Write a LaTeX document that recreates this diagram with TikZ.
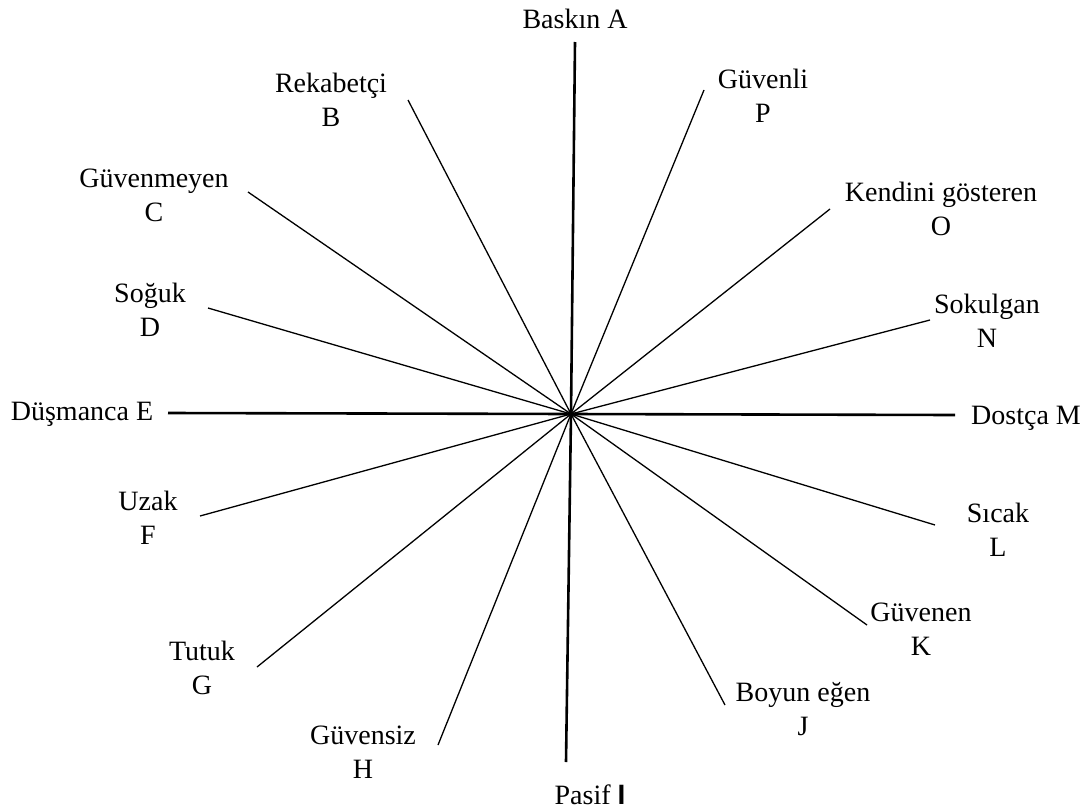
\documentclass[tikz,border=0pt]{standalone}
\usepackage{fontspec}
\setmainfont{Liberation Serif}
\newfontfamily\barfont{Liberation Sans}
\begin{document}
\begin{tikzpicture}[x=1pt,y=-1pt,
  lbl/.style={font=\fontsize{28}{34}\selectfont, align=center, inner sep=0pt},
  spoke/.style={line width=1.3pt, black},
  axis/.style={line width=2.6pt, black}]
\useasboundingbox (0,0) rectangle (1090,809);
\coordinate (O) at (571,414);
% axes ends
\coordinate (eA) at (575,42);
\coordinate (eI) at (566,762);
\coordinate (eE) at (168,413);
\coordinate (eM) at (955,415);
% spoke ends
\coordinate (eB) at (408,100);
\coordinate (eC) at (248,192);
\coordinate (eD) at (208,308);
\coordinate (eF) at (200,516);
\coordinate (eG) at (257,667);
\coordinate (eH) at (438,745);
\coordinate (eJ) at (725,705);
\coordinate (eK) at (867,625);
\coordinate (eL) at (935,525);
\coordinate (eN) at (930,320);
\coordinate (eO) at (830,209);
\coordinate (eP) at (704,90);

\draw[axis] (O) -- (eA);
\draw[axis] (O) -- (eI);
\draw[axis] (O) -- (eE);
\draw[axis] (O) -- (eM);
\foreach \e in {eB,eC,eD,eF,eG,eH,eJ,eK,eL,eN,eO,eP}
  \draw[spoke] (O) -- (\e);

\node[lbl] (A) at (575,19) {Baskın A};
\node[lbl] (B) at (331,100) {Rekabetçi\\B};
\node[lbl] (C) at (154,195) {Güvenmeyen\\C};
\node[lbl] (D) at (150,310) {Soğuk\\D};
\node[lbl] (E) at (82,414) {Düşmanca E};
\node[lbl] (F) at (148,518) {Uzak\\F};
\node[lbl] (G) at (202,668) {Tutuk\\G};
\node[lbl] (H) at (363,752) {Güvensiz\\H};
\node[lbl] (I) at (590,795) {Pasif {\barfont\bfseries I}};
\node[lbl] (J) at (803,709) {Boyun eğen\\J};
\node[lbl] (K) at (921,629) {Güvenen\\K};
\node[lbl] (L) at (998,530) {Sıcak\\L};
\node[lbl] (M) at (1026,418) {Dostça M};
\node[lbl] (N) at (987,321) {Sokulgan\\N};
\node[lbl] (Ol) at (941,209) {Kendini gösteren\\O};
\node[lbl] (P) at (763,96) {Güvenli\\P};
\end{tikzpicture}
\end{document}
